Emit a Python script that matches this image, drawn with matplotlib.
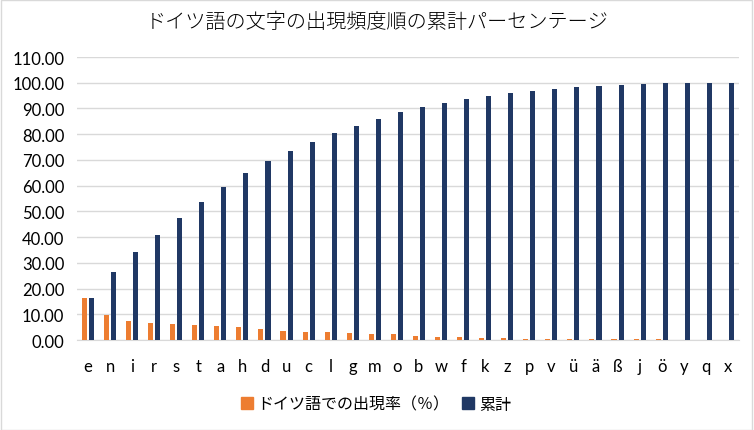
import matplotlib
matplotlib.use("Agg")
import matplotlib.pyplot as plt
from matplotlib.patches import Patch, Rectangle
from matplotlib.ticker import FormatStrFormatter
import numpy as np

plt.rcParams['font.family'] = ['Lato', 'Noto Sans CJK JP', 'DejaVu Sans']

# data
letters = ["e", "n", "i", "r", "s", "t", "a", "h", "d", "u", "c", "l", "g", "m", "o",
           "b", "w", "f", "k", "z", "p", "v", "ü", "ä", "ß", "j", "ö", "y", "q", "x"]
freq = [16.5, 9.8, 7.5, 6.7, 6.3, 5.9, 5.5, 5.1, 4.4, 3.6, 3.2, 3.1, 2.8, 2.4, 2.4,
        1.6, 1.3, 1.2, 0.9, 0.9, 0.5, 0.5, 0.5, 0.4, 0.2, 0.4, 0.4, 0.05, 0.02, 0.03]
cumulative = [16.5, 26.5, 34.2, 41.0, 47.5, 53.7, 59.5, 64.9, 69.6, 73.5, 77.0, 80.3, 83.3, 86.0, 88.7,
              90.7, 92.3, 93.8, 95.0, 96.1, 96.9, 97.7, 98.4, 98.9, 99.3, 99.6, 99.9, 99.95, 99.97, 100.0]

title = "ドイツ語の文字の出現頻度順の累計パーセンテージ"
label_freq = "ドイツ語での出現率（％）"
label_cum = "累計"

orange = "#ED7D31"
navy = "#203864"
grid = "#D9D9D9"
txt = "black"

fig = plt.figure(figsize=(7.54, 4.31), dpi=100)
fig.patches.append(Rectangle((0.001, 0.001), 0.997, 0.997, transform=fig.transFigure,
                             fill=False, edgecolor=grid, linewidth=1))
ax = fig.add_axes([0.102, 0.2088, 0.878, 0.6566])

x = np.arange(len(letters))
w = 0.23
ax.bar(x - 0.16, freq, w, color=orange, zorder=3)
ax.bar(x + 0.16, cumulative, w, color=navy, zorder=3)

ax.set_xlim(-0.5, len(letters) - 0.5)
ax.set_ylim(0, 110)
ax.set_yticks(np.arange(0, 111, 10))
ax.yaxis.set_major_formatter(FormatStrFormatter("%.2f"))
ax.set_xticks(x)
ax.set_xticklabels(letters)
ax.grid(axis="y", color=grid, linewidth=1, zorder=0)
ax.tick_params(length=0, labelsize=12, colors=txt)
ax.tick_params(axis="x", pad=13)
ax.tick_params(axis="y", pad=9)
for s in ["top", "left", "right"]:
    ax.spines[s].set_visible(False)
ax.spines["bottom"].set_color(grid)

fig.text(0.5, 1 - 22 / 431, title, ha="center", va="center", fontsize=14.5,
         color="black", family=['Noto Sans CJK JP'], fontweight="light")

handles = [Patch(color=orange, label=label_freq), Patch(color=navy, label=label_cum)]
fig.legend(handles=handles, loc="center", bbox_to_anchor=(376 / 754, 1 - 405 / 431),
           ncol=2, frameon=False, fontsize=11.5, handlelength=0.75, handleheight=0.75,
           handletextpad=0.3, columnspacing=0.8, labelcolor="black")

fig.savefig("out.png", dpi=100)
